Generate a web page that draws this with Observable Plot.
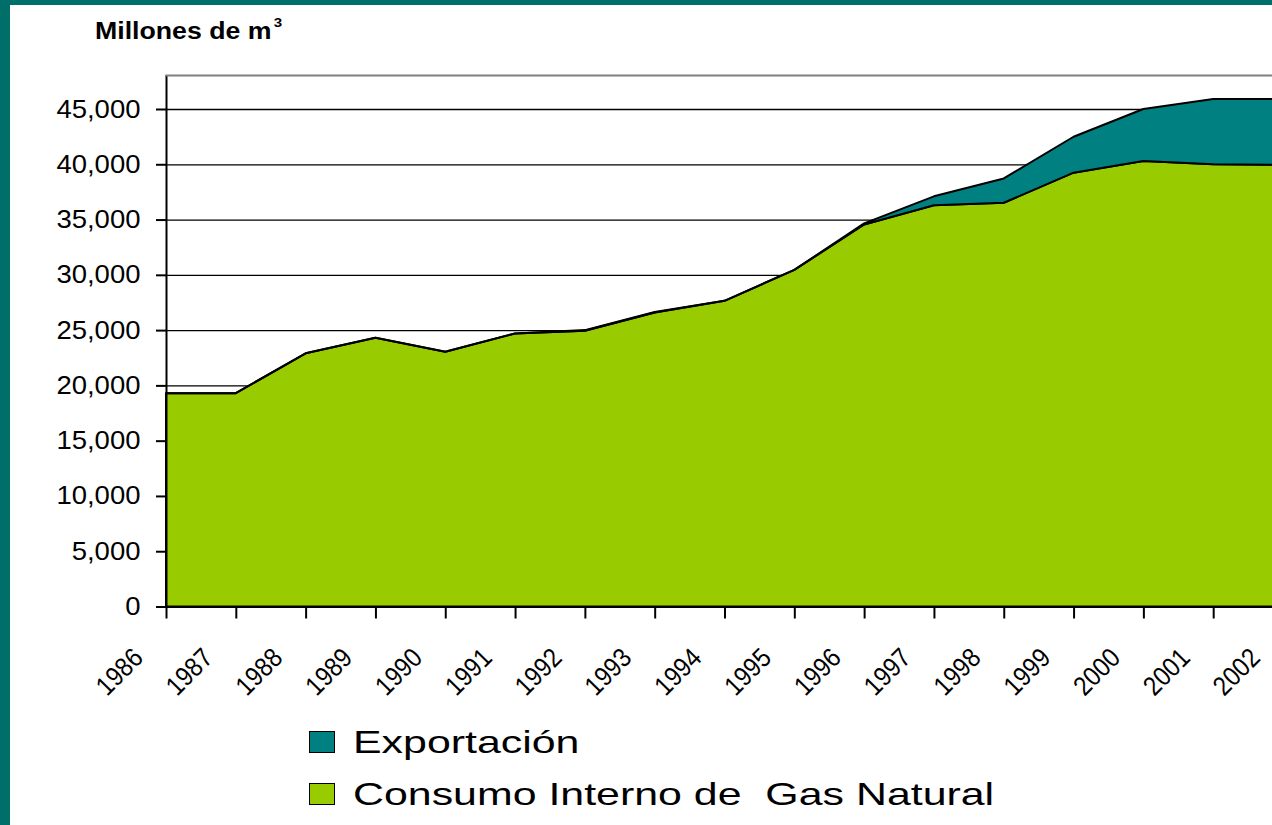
<!DOCTYPE html>
<html>
<head>
<meta charset="utf-8">
<script src="https://cdn.jsdelivr.net/npm/d3@7"></script>
<script src="https://cdn.jsdelivr.net/npm/@observablehq/plot@0.6"></script>
<style>
  html, body { margin: 0; padding: 0; width: 1272px; height: 825px; overflow: hidden; background: #006f6a; font-family: "Liberation Sans", Arial, sans-serif; }
  #panel { position: absolute; left: 10px; top: 5px; width: 1262px; height: 820px; background: #ffffff; overflow: hidden; }
  #title { position: absolute; left: 85px; top: 15px; font-size: 23px; line-height: 23px; font-weight: bold; white-space: pre; transform: scaleX(1.16); transform-origin: left top; color: #000; }
  #title sup { font-size: 13px; position: relative; top: -12px; margin-left: 2px; vertical-align: baseline; }
  #chart { position: absolute; left: 0; top: 55px; }
  .sw { position: absolute; width: 24px; height: 20px; border: 1.5px solid #000; }
  .lt { position: absolute; font-size: 32px; line-height: 32px; white-space: pre; transform: scaleX(1.34); transform-origin: left top; color: #000; }
</style>
</head>
<body>
<div id="panel">
  <div id="title">Millones de m<sup>3</sup></div>
  <div id="chart"></div>
  <div id="legend"></div>
</div>
<script>
// ---- data ----
const years = [1986, 1987, 1988, 1989, 1990, 1991, 1992, 1993, 1994, 1995, 1996, 1997, 1998, 1999, 2000, 2001, 2002];
const consumo = [19300, 19300, 22900, 24300, 23050, 24700, 24950, 26600, 27650, 30450, 34550, 36300, 36520, 39240, 40300, 40000, 39950];
const exportacion = [0, 0, 0, 0, 0, 0, 50, 50, 0, 0, 100, 800, 2200, 3250, 4700, 5900, 5950];
const seriesNames = ["Consumo Interno de Gas Natural", "Exportación"];
const legendLabels = ["Exportación", "Consumo Interno de  Gas Natural"];
const legendColors = ["#008080", "#99cc00"];
const seriesColors = ["#99cc00", "#008080"];
const yTicks = [0, 5000, 10000, 15000, 20000, 25000, 30000, 35000, 40000, 45000];

const rows = years.flatMap((yr, i) => [
  {year: yr, series: seriesNames[0], value: consumo[i]},
  {year: yr, series: seriesNames[1], value: exportacion[i]}
]);

const chart = Plot.plot({
  width: 1262,
  height: 650,
  marginTop: 15,
  marginLeft: 156,
  marginRight: 0,
  marginBottom: 103.5,
  style: {fontFamily: "'Liberation Sans', Arial, sans-serif", fontSize: "25px", color: "black", background: "white", overflow: "hidden"},
  x: {domain: [1986, 2002], range: [156, 1273], ticks: years, tickSize: 12, tickFormat: () => "", label: null},
  y: {domain: [0, 45000], range: [546.5, 49], ticks: yTicks, tickSize: 10, tickPadding: 16, tickFormat: d3.format(","), label: null},
  color: {domain: seriesNames, range: seriesColors},
  marks: [
    Plot.ruleY(yTicks.filter(d => d > 0), {stroke: "black", strokeWidth: 1.3}),
    Plot.areaY(rows, {x: "year", y: "value", fill: "series", order: seriesNames, stroke: "black", strokeWidth: 2, strokeLinejoin: "round"}),
    Plot.ruleX([years[0]], {stroke: "black", strokeWidth: 2}),
    Plot.ruleY([0], {stroke: "black", strokeWidth: 2}),
    Plot.frame({anchor: "top", stroke: "#808080", strokeWidth: 2}),
    Plot.text(years, {x: d => d, frameAnchor: "bottom", text: d => String(d), rotate: -45, textAnchor: "end", lineAnchor: "bottom", dx: -22, dy: 52.5, fontSize: 27, fill: "black"})
  ]
});
document.getElementById("chart").append(chart);

d3.select(chart).selectAll('[aria-label="y-axis tick"], [aria-label="x-axis tick"]').attr("stroke-width", 2);
d3.select(chart).selectAll('[aria-label="y-axis tick label"] text').each(function() {
  const w = this.getComputedTextLength();
  this.setAttribute("textLength", w * 1.1);
  this.setAttribute("lengthAdjust", "spacingAndGlyphs");
});
d3.select(chart).selectAll('[aria-label="text"] text').each(function() {
  const w = this.getComputedTextLength();
  this.setAttribute("textLength", w * 0.88);
  this.setAttribute("lengthAdjust", "spacingAndGlyphs");
});

// legend (HTML, below the svg)
const legend = document.getElementById("legend");
const swTop = [726, 778];
const txTop = [721, 773];
legendLabels.forEach((lab, i) => {
  const sw = document.createElement("div");
  sw.className = "sw";
  sw.style.left = "299px";
  sw.style.top = swTop[i] + "px";
  sw.style.background = legendColors[i];
  legend.append(sw);
  const t = document.createElement("div");
  t.className = "lt";
  t.style.left = "343px";
  t.style.top = txTop[i] + "px";
  t.textContent = lab;
  legend.append(t);
});
</script>
</body>
</html>
